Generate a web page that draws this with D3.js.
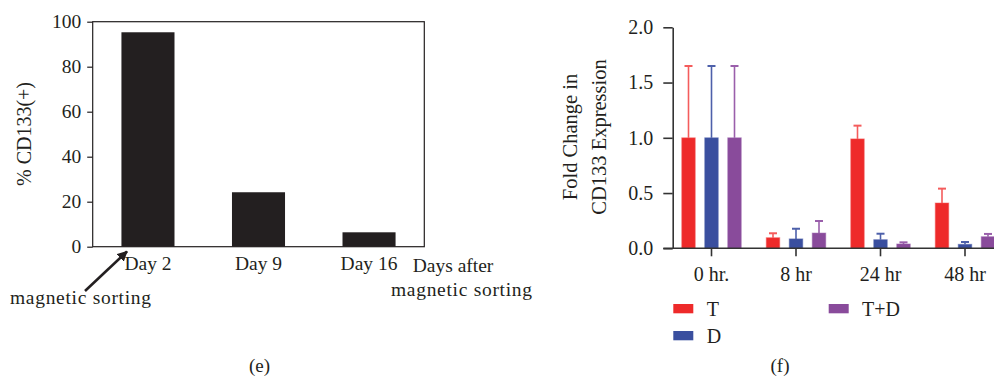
<!DOCTYPE html>
<html>
<head>
<meta charset="utf-8">
<script src="https://cdn.jsdelivr.net/npm/d3@7"></script>
<style>
  body { margin: 0; background: #fff; }
  svg { display: block; }
  svg text { fill: #231f20; font-family: "Liberation Serif", "Times New Roman", serif !important; }
</style>
</head>
<body>
<script>
// panel (e)
var days = ['Day 2', 'Day 9', 'Day 16'];
var pctCD133 = [95.3, 24.2, 6.4];
var pctTicks = [0, 20, 40, 60, 80, 100];

// panel (f)
var times = ['0 hr.', '8 hr', '24 hr', '48 hr'];
var groups = ['T', 'D', 'T+D'];
var meanT = [1.0, 0.096, 0.99, 0.41];
var sdT = [0.65, 0.04, 0.12, 0.13];
var meanD = [1.0, 0.085, 0.078, 0.036];
var sdD = [0.65, 0.092, 0.054, 0.021];
var meanTD = [1.0, 0.138, 0.039, 0.105];
var sdTD = [0.65, 0.109, 0.015, 0.025];
var foldTicks = [0, 0.5, 1.0, 1.5, 2.0];

var colors = {'T': '#ee2a2a', 'D': '#3a4f9f', 'T+D': '#894b9b'};
var errColors = {'T': '#f45c5c', 'D': '#4d60aa', 'T+D': '#9a5fab'};

var svg = d3.select('body').append('svg')
  .attr('width', 994).attr('height', 380);

drawLeft();
drawRight();

function drawLeft() {
  var x = d3.scaleBand().domain(days).range([92.7, 424.3]).padding(0.52).paddingOuter(0.26);
  var y = d3.scaleLinear().domain([0, 100]).range([246.7, 21.7]);
  var g = svg.append('g');

  g.selectAll('rect.bar')
    .data(days)
    .enter()
    .append('rect')
    .attr('class', 'bar')
    .attr('x', function(d) { return x(d); })
    .attr('width', x.bandwidth())
    .attr('y', function(d, i) { return y(pctCD133[i]); })
    .attr('height', function(d, i) { return y(0) - y(pctCD133[i]); })
    .attr('fill', '#231f20');

  // box
  g.append('rect')
    .attr('x', 92.7).attr('y', 21.7)
    .attr('width', 424.3 - 92.7).attr('height', 246.7 - 21.7)
    .attr('fill', 'none').attr('stroke', '#231f20').attr('stroke-width', 1.2);

  var yAxis = g.append('g')
    .attr('transform', 'translate(92.7,0)')
    .call(d3.axisLeft(y).tickValues(pctTicks).tickSize(5.5).tickPadding(6));
  yAxis.attr('font-family', null).attr('font-size', 19.5);
  yAxis.select('.domain').remove();
  yAxis.selectAll('line').attr('stroke', '#231f20').attr('stroke-width', 1.2);

  var xAxis = g.append('g')
    .attr('transform', 'translate(0,246.7)')
    .call(d3.axisBottom(x).tickSize(0).tickPadding(0));
  xAxis.attr('font-family', null).attr('font-size', 19.5);
  xAxis.select('.domain').remove();
  xAxis.selectAll('text').attr('dy', null).attr('y', 23.5);

  g.append('text')
    .attr('transform', 'translate(31,134) rotate(-90)')
    .attr('text-anchor', 'middle')
    .attr('font-size', 20)
    .text('% CD133(+)');

  g.append('text').attr('x', 412.7).attr('y', 272).attr('font-size', 19.5).text('Days after');
  g.append('text').attr('x', 391).attr('y', 296).attr('font-size', 19.5).attr('letter-spacing', 0.7).text('magnetic sorting');
  g.append('text').attr('x', 10).attr('y', 304).attr('font-size', 19.5).attr('letter-spacing', 0.7).text('magnetic sorting');

  // arrow to Day 2
  svg.append('defs').append('marker')
    .attr('id', 'head')
    .attr('viewBox', '0 0 10 10')
    .attr('refX', 9).attr('refY', 5)
    .attr('markerWidth', 4).attr('markerHeight', 4)
    .attr('orient', 'auto')
    .append('path').attr('d', 'M0,0L10,5L0,10z').attr('fill', '#231f20');
  g.append('line')
    .attr('x1', 85).attr('y1', 291)
    .attr('x2', 127).attr('y2', 251.5)
    .attr('stroke', '#231f20').attr('stroke-width', 2.6)
    .attr('marker-end', 'url(#head)');

  g.append('text').attr('x', 259.5).attr('y', 372).attr('text-anchor', 'middle').attr('font-size', 19).text('(e)');
}

function drawRight() {
  var x0 = d3.scaleBand().domain(times).range([669.25, 1007.25]);
  var x1 = d3.scaleBand().domain(groups).range([-34.5, 34.5]).paddingInner(0.413).paddingOuter(0.2065);
  var y = d3.scaleLinear().domain([0, 2]).range([248.3, 27.3]);
  var means = {'T': meanT, 'D': meanD, 'T+D': meanTD};
  var sds = {'T': sdT, 'D': sdD, 'T+D': sdTD};
  var g = svg.append('g');

  var rows = [];
  groups.forEach(function(s) {
    times.forEach(function(t, i) {
      rows.push({s: s, t: t, m: means[s][i], e: sds[s][i]});
    });
  });

  function cx(d) { return x0(d.t) + x0.bandwidth() / 2 + x1(d.s); }

  // error bars
  var eb = g.selectAll('g.err').data(rows).enter().append('g').attr('class', 'err')
    .attr('stroke', function(d) { return errColors[d.s]; })
    .attr('stroke-width', 1.6);
  eb.append('line')
    .attr('x1', function(d) { return cx(d) + x1.bandwidth() / 2; })
    .attr('x2', function(d) { return cx(d) + x1.bandwidth() / 2; })
    .attr('y1', function(d) { return y(d.m); })
    .attr('y2', function(d) { return y(d.m + d.e); });
  eb.append('line')
    .attr('x1', function(d) { return cx(d) + x1.bandwidth() / 2 - 4; })
    .attr('x2', function(d) { return cx(d) + x1.bandwidth() / 2 + 4; })
    .attr('y1', function(d) { return y(d.m + d.e); })
    .attr('y2', function(d) { return y(d.m + d.e); })
    .attr('stroke-width', 2);

  g.selectAll('rect.bar').data(rows).enter().append('rect')
    .attr('class', 'bar')
    .attr('x', cx)
    .attr('width', x1.bandwidth())
    .attr('y', function(d) { return y(d.m); })
    .attr('height', function(d) { return y(0) - y(d.m); })
    .attr('fill', function(d) { return colors[d.s]; })
    .attr('stroke', function(d) { return errColors[d.s]; })
    .attr('stroke-opacity', 0.5)
    .attr('stroke-width', 1);

  var yAxis = g.append('g')
    .attr('transform', 'translate(672.7,0)')
    .call(d3.axisLeft(y).tickValues(foldTicks).tickFormat(d3.format('.1f')).tickSize(9.4).tickSizeOuter(0).tickPadding(10));
  yAxis.attr('font-family', null).attr('font-size', 20);
  yAxis.select('.domain').attr('stroke', '#333').attr('stroke-width', 1.6);
  yAxis.selectAll('line').attr('stroke', '#333').attr('stroke-width', 1.6);

  var xAxis = g.append('g')
    .attr('transform', 'translate(0,248.3)')
    .call(d3.axisBottom(x0).tickSize(8).tickSizeOuter(0).tickPadding(0));
  xAxis.attr('font-family', null).attr('font-size', 20);
  xAxis.select('.domain').remove();
  xAxis.selectAll('line').attr('stroke', '#333').attr('stroke-width', 1.6);
  xAxis.selectAll('text').attr('dy', null).attr('y', 32.5);
  g.append('line')
    .attr('x1', 663.3).attr('x2', 994)
    .attr('y1', 248.3).attr('y2', 248.3)
    .attr('stroke', '#333').attr('stroke-width', 1.6);

  var lab = g.append('text')
    .attr('transform', 'translate(583.5,137) rotate(-90)')
    .attr('text-anchor', 'middle')
    .attr('font-size', 20.5);
  lab.append('tspan').attr('x', 0).attr('dy', '-0.3em').text('Fold Change in');
  lab.append('tspan').attr('x', 0).attr('dy', '1.38em').text('CD133 Expression');

  // legend
  var legendPos = [[673.3, 304], [673.3, 331], [828.7, 304]];
  var lg = g.selectAll('g.legend').data(groups).enter().append('g')
    .attr('class', 'legend')
    .attr('transform', function(d, i) { return 'translate(' + legendPos[i][0] + ',' + legendPos[i][1] + ')'; });
  lg.append('rect').attr('width', 20).attr('height', 9.3)
    .attr('fill', function(d) { return colors[d]; });
  lg.append('text').attr('x', 33.4).attr('y', 12).attr('font-size', 20).text(function(d) { return d; });

  g.append('text').attr('x', 780).attr('y', 372).attr('text-anchor', 'middle').attr('font-size', 19).text('(f)');
}
</script>
</body>
</html>
